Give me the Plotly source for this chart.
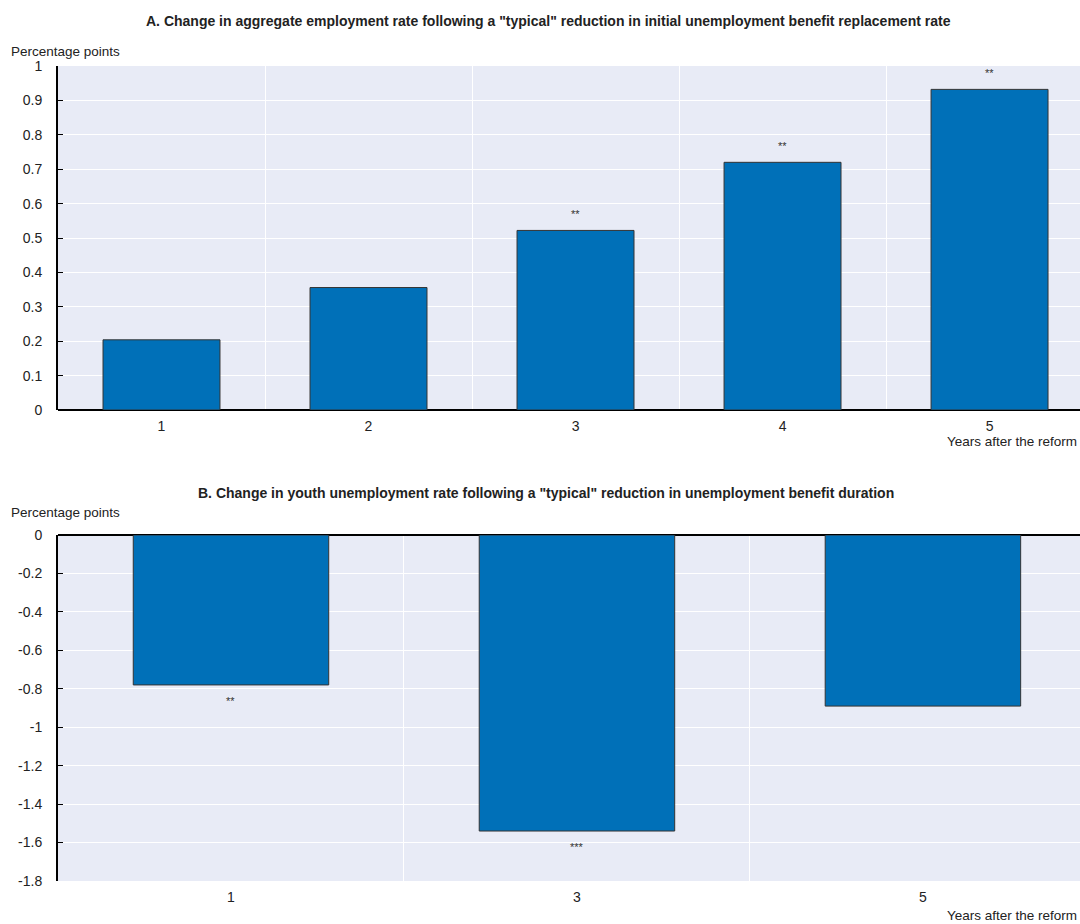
import plotly.graph_objects as go

# Panel A: aggregate employment rate response, years 1-5 after the reform
years_a = ["1", "2", "3", "4", "5"]
employment_change = [0.204, 0.356, 0.522, 0.72, 0.932]
signif_a = ["", "", "**", "**", "**"]

# Panel B: youth unemployment rate response, years 1, 3, 5 after the reform
years_b = ["1", "3", "5"]
youth_unemp_change = [-0.78, -1.54, -0.89]
signif_b = ["**", "***", ""]

ticks_a = [0, 0.1, 0.2, 0.3, 0.4, 0.5, 0.6, 0.7, 0.8, 0.9, 1]
tick_labels_a = ["0", "0.1", "0.2", "0.3", "0.4", "0.5", "0.6", "0.7", "0.8", "0.9", "1"]
ticks_b = [0, -0.2, -0.4, -0.6, -0.8, -1, -1.2, -1.4, -1.6, -1.8]
tick_labels_b = ["0", "-0.2", "-0.4", "-0.6", "-0.8", "-1", "-1.2", "-1.4", "-1.6", "-1.8"]

title_a = 'A. Change in aggregate employment rate following a "typical" reduction in initial unemployment benefit replacement rate'
title_b = 'B. Change in youth unemployment rate following a "typical" reduction in unemployment benefit duration'
y_title = "Percentage points"
x_title = "Years after the reform"

W, H = 1080, 924
FONT = "Liberation Sans, Arial, sans-serif"
BAR = "#0070b8"
BG = "#e8ebf6"
TXT = "#222222"


def px_x(p):
    return p / W


def px_y(p):
    return 1 - p / H


fig = go.Figure()
fig.add_trace(go.Bar(
    x=years_a, y=employment_change, xaxis="x", yaxis="y",
    marker=dict(color=BAR, line=dict(color="#333333", width=1)),
    hoverinfo="x+y", showlegend=False,
))
fig.add_trace(go.Bar(
    x=years_b, y=youth_unemp_change, xaxis="x2", yaxis="y2",
    marker=dict(color=BAR, line=dict(color="#333333", width=1)),
    hoverinfo="x+y", showlegend=False,
))

x_common = dict(
    type="category", tickson="boundaries", showgrid=True, gridcolor="white",
    gridwidth=1, ticks="", showline=False, zeroline=False, automargin=False,
    ticklabelstandoff=6,
    tickfont=dict(size=14, color=TXT, family=FONT), fixedrange=True,
)
y_common = dict(
    showgrid=True, gridcolor="white", gridwidth=1, showline=True,
    linecolor="black", linewidth=2, ticks="inside", ticklen=5,
    tickcolor="black", tickwidth=1, zeroline=True, zerolinecolor="black",
    zerolinewidth=2, automargin=False, ticklabelstandoff=11,
    tickfont=dict(size=14, color=TXT, family=FONT), fixedrange=True,
)

fig.update_layout(
    width=W, height=H,
    margin=dict(l=0, r=0, t=0, b=0, autoexpand=False),
    paper_bgcolor="white", plot_bgcolor=BG,
    bargap=0.435,
    font=dict(family=FONT, color=TXT),
    xaxis=dict(x_common, domain=[px_x(58), 1], anchor="y", range=[-0.5, 4.437]),
    yaxis=dict(y_common, domain=[px_y(410), px_y(66)], anchor="x",
               range=[0, 1], tickvals=ticks_a, ticktext=tick_labels_a),
    xaxis2=dict(x_common, domain=[px_x(58), 1], anchor="y2", range=[-0.5, 2.454]),
    yaxis2=dict(y_common, domain=[px_y(881), px_y(535)], anchor="x2",
                range=[-1.8, 0], tickvals=ticks_b, ticktext=tick_labels_b),
)

annotations = [
    dict(text="<b>" + title_a + "</b>", x=px_x(548), y=px_y(21), xref="paper", yref="paper",
         xanchor="center", yanchor="middle", showarrow=False, font=dict(size=14, color=TXT)),
    dict(text="<b>" + title_b + "</b>", x=px_x(546), y=px_y(493), xref="paper", yref="paper",
         xanchor="center", yanchor="middle", showarrow=False, font=dict(size=14, color=TXT)),
    dict(text=y_title, x=px_x(10), y=px_y(51), xref="paper", yref="paper",
         xanchor="left", yanchor="middle", showarrow=False, borderpad=0,
         font=dict(size=13.5, color=TXT)),
    dict(text=y_title, x=px_x(10), y=px_y(512), xref="paper", yref="paper",
         xanchor="left", yanchor="middle", showarrow=False, borderpad=0,
         font=dict(size=13.5, color=TXT)),
    dict(text=x_title, x=px_x(1078), y=px_y(441), xref="paper", yref="paper",
         xanchor="right", yanchor="middle", showarrow=False, borderpad=0,
         font=dict(size=13.5, color=TXT)),
    dict(text=x_title, x=px_x(1078), y=px_y(915), xref="paper", yref="paper",
         xanchor="right", yanchor="middle", showarrow=False, borderpad=0,
         font=dict(size=13.5, color=TXT)),
]

# significance stars placed just beyond the end of each bar
# (x given as category index so numeric-looking labels are not misread)
for i, (val, s) in enumerate(zip(employment_change, signif_a)):
    if s:
        annotations.append(dict(text=s, x=i, y=val, xref="x", yref="y", yshift=16,
                                showarrow=False, font=dict(size=11, color="#333333")))
for i, (val, s) in enumerate(zip(youth_unemp_change, signif_b)):
    if s:
        annotations.append(dict(text=s, x=i, y=val, xref="x2", yref="y2", yshift=-16,
                                showarrow=False, font=dict(size=11, color="#333333")))

fig.update_layout(annotations=annotations)

fig.write_html("out.html", config=dict(displayModeBar=False))
